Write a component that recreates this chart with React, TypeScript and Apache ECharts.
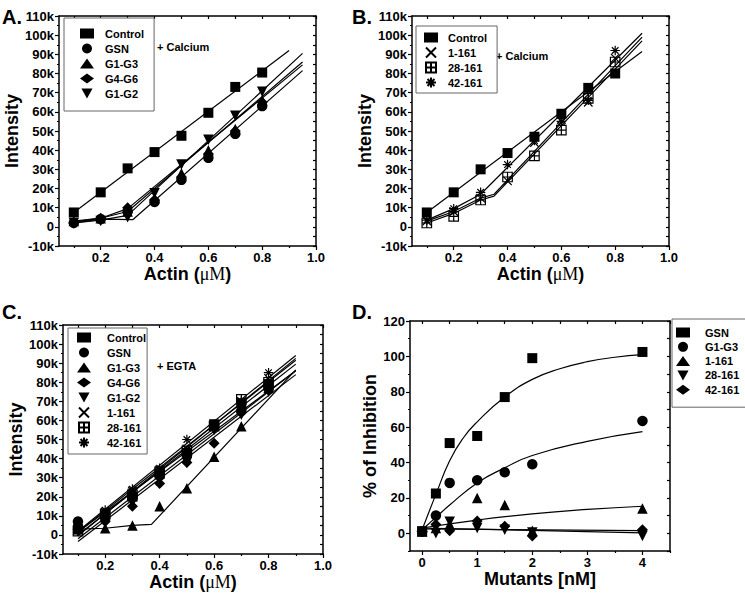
import React, { useEffect, useRef } from 'react';
import * as echarts from 'echarts';

const FONT = '"Liberation Sans", Arial, Helvetica, sans-serif';
const SERIF = '"Liberation Serif", "DejaVu Serif", serif';
const INK = '#000';

// ---------- tick values ----------
const actinMajor = [0.2, 0.4, 0.6, 0.8, 1.0];
const actinMinor = [0.1, 0.3, 0.5, 0.7, 0.9];
const intensityMajor = [-10000, 0, 10000, 20000, 30000, 40000, 50000, 60000, 70000, 80000, 90000, 100000, 110000];
const intensityMinor = [-5000, 5000, 15000, 25000, 35000, 45000, 55000, 65000, 75000, 85000, 95000, 105000];
const mutantsMajor = [0, 1, 2, 3, 4];
const mutantsMinor = [0.5, 1.5, 2.5, 3.5, 4.5];
const inhibMajor = [0, 20, 40, 60, 80, 100, 120];
const inhibMinor = [-10, 10, 30, 50, 70, 90, 110];

// ---------- panel A (+ Calcium) ----------
const actinX = [0.1, 0.2, 0.3, 0.4, 0.5, 0.6, 0.7, 0.8];
const aControl = [7500, 18000, 30500, 39000, 47500, 59500, 73000, 80500];
const aGSN = [2000, 4000, 8000, 13000, 24500, 36000, 48500, 63000];
const aG1G3 = [3000, 4500, 8000, 15000, 28000, 40000, 51000, 66000];
const aG4G6 = [2000, 4500, 10000, 14000, 26000, 38000, 50000, 65000];
const aG1G2 = [2000, 3000, 5000, 17500, 32500, 45500, 58000, 70500];
const aFitControl = [[0.1, 7500], [0.9, 92000]];
const aFitGSN = [[0.1, 2000], [0.2, 4000], [0.32, 3800], [0.95, 81500]];
const aFitG1G3 = [[0.1, 3000], [0.2, 4500], [0.3, 8000], [0.95, 86000]];
const aFitG4G6 = [[0.1, 2500], [0.2, 4500], [0.3, 9500], [0.95, 84500]];
const aFitG1G2 = [[0.1, 2000], [0.2, 3500], [0.3, 6000], [0.95, 90500]];

// ---------- panel B (+ Calcium) ----------
const bControl = [7500, 18000, 30000, 38500, 47000, 59000, 72500, 80000];
const b1_161 = [3000, 8000, 15000, 24000, 44000, 56000, 65000, 88000];
const b28_161 = [2000, 5500, 14000, 26000, 37000, 50500, 67000, 86000];
const b42_161 = [3500, 9500, 18000, 32500, 45000, 55000, 66000, 92000];
const bFitControl = [[0.1, 7500], [0.9, 91500]];
const bFit1_161 = [[0.1, 3000], [0.2, 8000], [0.3, 15000], [0.35, 17000], [0.9, 99000]];
const bFit28_161 = [[0.1, 2000], [0.2, 7000], [0.3, 14000], [0.35, 16000], [0.9, 97000]];
const bFit42_161 = [[0.1, 3500], [0.2, 9500], [0.3, 17000], [0.9, 101000]];

// ---------- panel C (+ EGTA) ----------
const cControl = [3000, 10000, 20000, 32000, 43000, 58000, 69000, 79000];
const cGSN = [7000, 11000, 21000, 31000, 42000, 57000, 65000, 77000];
const cG1G3 = [3000, 3500, 5000, 15000, 24500, 41000, 57000, 77000];
const cG4G6 = [3000, 7000, 15000, 27000, 38000, 48000, 64000, 76000];
const cG1G2 = [2000, 8000, 17000, 29000, 38000, 55000, 63000, 75000];
const c1_161 = [3000, 12000, 23000, 34000, 45000, 57000, 70000, 82000];
const c28_161 = [2000, 11000, 21000, 33000, 44000, 57000, 71000, 80000];
const c42_161 = [4000, 13000, 24000, 35000, 50000, 58000, 70000, 85000];
const cFitControl = [[0.1, 0], [0.9, 89500]];
const cFitGSN = [[0.1, 1500], [0.9, 86000]];
const cFitG1G3 = [[0.1, 3000], [0.2, 3500], [0.3, 5000], [0.37, 5500], [0.9, 86500]];
const cFitG4G6 = [[0.1, -3500], [0.9, 84000]];
const cFitG1G2 = [[0.1, -2000], [0.9, 86000]];
const cFit1_161 = [[0.1, 1500], [0.9, 91500]];
const cFit28_161 = [[0.1, -500], [0.9, 92500]];
const cFit42_161 = [[0.1, 2000], [0.9, 94000]];

// ---------- panel D ----------
const dX = [0, 0.25, 0.5, 1, 1.5, 2, 4];
const dGSN = [1, 22.5, 51, 55, 77, 99, 102.5];
const dG1G3 = [1, 10, 28.5, 30, 34.5, 39, 63.5];
const d1_161 = [1, 3, 5, 20, 16, 1.5, 14];
const d28_161 = [1, 0, 6.5, 3, 2, 0.5, -1.5];
const d42_161 = [1, 5, 1.5, 7, 4, -1.5, 2];
const dFitGSN = [[0, 2], [0.25, 22], [0.5, 41], [0.75, 54], [1, 63], [1.5, 77], [2, 87], [2.5, 93], [3, 97], [3.5, 99.5], [4, 101]];
const dFitG1G3 = [[0, 2], [0.25, 9], [0.5, 16], [1, 28.5], [1.5, 37], [2, 44], [3, 52], [4, 57.5]];
const dFit1_161 = [[0, 3], [1, 7.5], [2, 11], [3, 13.5], [4, 15.3]];
const dFit28_161 = [[0, 3], [4, 0.3]];
const dFit42_161 = [[0, 2.5], [4, 1.5]];

// ---------- symbols ----------
type Sym = { symbol: string; size: number; filled: boolean };
const SQ: Sym = { symbol: 'rect', size: 10, filled: true };
const CI: Sym = { symbol: 'circle', size: 10.5, filled: true };
const TR: Sym = { symbol: 'triangle', size: 10.5, filled: true };
const DI: Sym = { symbol: 'diamond', size: 11, filled: true };
const IT: Sym = { symbol: 'path://M0,0L10,0L5,9Z', size: 10.5, filled: true };
const XC: Sym = { symbol: 'path://M0,0L10,10M10,0L0,10', size: 8.5, filled: false };
const BP: Sym = { symbol: 'path://M0,0L10,0L10,10L0,10ZM5,0L5,10M0,5L10,5', size: 9.5, filled: false };
const ST: Sym = { symbol: 'path://M0.5,0.5L9.5,9.5M9.5,0.5L0.5,9.5M5,-1.5L5,11.5M-1.5,5L11.5,5', size: 9.5, filled: false };

const strip = (n: string) => n.split('#')[0];
const kFmt = (v: number) => (Math.abs(v) < 1e-9 ? '0' : `${Math.round(v / 1000)}k`);
const dec1 = (v: number) => v.toFixed(1);
const intFmt = (v: number) => String(Math.round(v));

type Spec = { min: number; max: number; major: number[]; minor: number[]; fmt: (v: number) => string };

const axisLine = { show: true, onZero: false, lineStyle: { color: INK, width: 1.5 } };
const tickLine = { color: INK, width: 1.2 };
const labelStyle = { fontFamily: FONT, fontWeight: 'bold', fontSize: 13, color: INK };
const nameStyle = {
  fontFamily: FONT,
  fontWeight: 'bold',
  fontSize: 18,
  color: INK,
  rich: { u: { fontFamily: SERIF, fontWeight: 'normal', fontSize: 18, color: INK } },
};

function makeAxes(g: number, xs: Spec, ys: Spec, xName: string, yName: string, xGap: number, yGap: number) {
  const xAxes = [
    {
      gridIndex: g, type: 'value', position: 'bottom', min: xs.min, max: xs.max,
      axisLine,
      axisTick: { show: true, inside: false, length: 4, customValues: xs.major, lineStyle: tickLine },
      axisLabel: { show: true, customValues: xs.major, formatter: xs.fmt, margin: 5, ...labelStyle },
      splitLine: { show: false },
      name: xName, nameLocation: 'middle', nameGap: xGap, nameTextStyle: nameStyle,
    },
    {
      gridIndex: g, type: 'value', position: 'bottom', min: xs.min, max: xs.max,
      axisLine: { show: false, onZero: false },
      axisTick: { show: true, inside: false, length: 2, customValues: xs.minor, lineStyle: tickLine },
      axisLabel: { show: false },
      splitLine: { show: false },
    },
    {
      gridIndex: g, type: 'value', position: 'top', min: xs.min, max: xs.max,
      axisLine,
      axisTick: { show: true, inside: true, length: 3, customValues: [...xs.major, ...xs.minor], lineStyle: tickLine },
      axisLabel: { show: false },
      splitLine: { show: false },
    },
  ];
  const yAxes = [
    {
      gridIndex: g, type: 'value', position: 'left', min: ys.min, max: ys.max,
      axisLine,
      axisTick: { show: true, inside: false, length: 4, customValues: ys.major, lineStyle: tickLine },
      axisLabel: { show: true, customValues: ys.major, formatter: ys.fmt, margin: 5, ...labelStyle },
      splitLine: { show: false },
      name: yName, nameLocation: 'middle', nameGap: yGap, nameTextStyle: nameStyle,
    },
    {
      gridIndex: g, type: 'value', position: 'left', min: ys.min, max: ys.max,
      axisLine: { show: false, onZero: false },
      axisTick: { show: true, inside: false, length: 2, customValues: ys.minor, lineStyle: tickLine },
      axisLabel: { show: false },
      splitLine: { show: false },
    },
    {
      gridIndex: g, type: 'value', position: 'right', min: ys.min, max: ys.max,
      axisLine,
      axisTick: { show: true, inside: true, length: 3, customValues: [...ys.major, ...ys.minor], lineStyle: tickLine },
      axisLabel: { show: false },
      splitLine: { show: false },
    },
  ];
  return { xAxes, yAxes };
}

function scatter(name: string, xs: number[], ys: number[], s: Sym, p: number) {
  return {
    type: 'scatter', name, xAxisIndex: p * 3, yAxisIndex: p * 3,
    data: xs.map((x, i) => [x, ys[i]]),
    symbol: s.symbol, symbolSize: s.size,
    itemStyle: s.filled
      ? { color: INK, borderWidth: 0, opacity: 1 }
      : { color: 'rgba(0,0,0,0)', borderColor: INK, borderWidth: 1.2, opacity: 1 },
    z: 3, silent: true,
  };
}

function fit(pts: number[][], p: number, smooth = false) {
  return {
    type: 'line', xAxisIndex: p * 3, yAxisIndex: p * 3, data: pts,
    showSymbol: false, symbol: 'none', smooth,
    lineStyle: { color: INK, width: 1.2 }, z: 2, silent: true,
  };
}

function legend(left: number, top: number, names: string[], gap: number, padding: number[], textPad: number) {
  return {
    left, top, orient: 'vertical', data: names, formatter: strip, selectedMode: false,
    itemWidth: 14, itemHeight: 10, itemGap: gap, padding,
    borderColor: '#666', borderWidth: 1, backgroundColor: '#fff',
    itemStyle: { opacity: 1 },
    textStyle: { fontFamily: FONT, fontWeight: 'bold', fontSize: 11, color: INK, lineHeight: 13, padding: [0, 0, 0, textPad] },
  };
}

export default function App() {
  const ref = useRef<HTMLDivElement>(null);
  useEffect(() => {
    if (!ref.current) return;
    const chart = echarts.init(ref.current, undefined, { renderer: 'svg' });
    const actin = (min: number): Spec => ({ min, max: 1.0, major: actinMajor, minor: actinMinor, fmt: dec1 });
    const inten: Spec = { min: -10000, max: 110000, major: intensityMajor, minor: intensityMinor, fmt: kFmt };
    const actinName = 'Actin ({u|\u03bcM})';
    const A = makeAxes(0, actin(0.045), inten, actinName, 'Intensity', 19, 37);
    const B = makeAxes(1, actin(0.045), inten, actinName, 'Intensity', 19, 38);
    const C = makeAxes(2, actin(0.045), inten, actinName, 'Intensity', 13, 37);
    const D = makeAxes(
      3,
      { min: -0.22, max: 4.5, major: mutantsMajor, minor: mutantsMinor, fmt: intFmt },
      { min: -10, max: 120, major: inhibMajor, minor: inhibMinor, fmt: intFmt },
      'Mutants [nM]', '% of Inhibition', 18, 22,
    );

    const option = {
      animation: false,
      backgroundColor: '#fff',
      grid: [
        { left: 59, top: 16, width: 257, height: 230, outerBoundsMode: 'none' },
        { left: 412, top: 16, width: 257, height: 230, outerBoundsMode: 'none' },
        { left: 63, top: 325, width: 260, height: 229, outerBoundsMode: 'none' },
        { left: 410, top: 321, width: 260, height: 230, outerBoundsMode: 'none' },
      ],
      xAxis: [...A.xAxes, ...B.xAxes, ...C.xAxes, ...D.xAxes],
      yAxis: [...A.yAxes, ...B.yAxes, ...C.yAxes, ...D.yAxes],
      legend: [
        legend(64, 18, ['Control#A', 'GSN#A', 'G1-G3#A', 'G4-G6#A', 'G1-G2#A'], 2, [9, 10, 11, 16], 6),
        legend(416, 26, ['Control#B', '1-161#B', '28-161#B', '42-161#B'], 2, [5, 10, 4, 8], 5),
        legend(68, 328, ['Control#C', 'GSN#C', 'G1-G3#C', 'G4-G6#C', 'G1-G2#C', '1-161#C', '28-161#C', '42-161#C'], 2, [3, 1, 5, 9], 11),
        legend(672, 319, ['GSN#D', 'G1-G3#D', '1-161#D', '28-161#D', '42-161#D'], 1.3, [7, 10, 11, 4], 10),
      ],
      graphic: [
        { type: 'text', left: 2, top: 7, style: { text: 'A.', font: `bold 20px ${FONT}`, fill: INK } },
        { type: 'text', left: 352, top: 7, style: { text: 'B.', font: `bold 20px ${FONT}`, fill: INK } },
        { type: 'text', left: 2, top: 302, style: { text: 'C.', font: `bold 20px ${FONT}`, fill: INK } },
        { type: 'text', left: 352, top: 302, style: { text: 'D.', font: `bold 20px ${FONT}`, fill: INK } },
        { type: 'text', left: 157, top: 41, style: { text: '+ Calcium', font: `bold 11px ${FONT}`, fill: INK } },
        { type: 'text', left: 496, top: 50, style: { text: '+ Calcium', font: `bold 11px ${FONT}`, fill: INK } },
        { type: 'text', left: 157, top: 360, style: { text: '+ EGTA', font: `bold 11px ${FONT}`, fill: INK } },
      ],
      series: [
        // A
        fit(aFitControl, 0), fit(aFitGSN, 0), fit(aFitG1G3, 0), fit(aFitG4G6, 0), fit(aFitG1G2, 0),
        scatter('Control#A', actinX, aControl, SQ, 0),
        scatter('GSN#A', actinX, aGSN, CI, 0),
        scatter('G1-G3#A', actinX, aG1G3, TR, 0),
        scatter('G4-G6#A', actinX, aG4G6, DI, 0),
        scatter('G1-G2#A', actinX, aG1G2, IT, 0),
        // B
        fit(bFitControl, 1), fit(bFit1_161, 1), fit(bFit28_161, 1), fit(bFit42_161, 1),
        scatter('Control#B', actinX, bControl, SQ, 1),
        scatter('1-161#B', actinX, b1_161, XC, 1),
        scatter('28-161#B', actinX, b28_161, BP, 1),
        scatter('42-161#B', actinX, b42_161, ST, 1),
        // C
        fit(cFitControl, 2), fit(cFitGSN, 2), fit(cFitG1G3, 2), fit(cFitG4G6, 2),
        fit(cFitG1G2, 2), fit(cFit1_161, 2), fit(cFit28_161, 2), fit(cFit42_161, 2),
        scatter('Control#C', actinX, cControl, SQ, 2),
        scatter('GSN#C', actinX, cGSN, CI, 2),
        scatter('G1-G3#C', actinX, cG1G3, TR, 2),
        scatter('G4-G6#C', actinX, cG4G6, DI, 2),
        scatter('G1-G2#C', actinX, cG1G2, IT, 2),
        scatter('1-161#C', actinX, c1_161, XC, 2),
        scatter('28-161#C', actinX, c28_161, BP, 2),
        scatter('42-161#C', actinX, c42_161, ST, 2),
        // D
        fit(dFitGSN, 3, true), fit(dFitG1G3, 3, true), fit(dFit1_161, 3, true),
        fit(dFit28_161, 3), fit(dFit42_161, 3),
        scatter('GSN#D', dX, dGSN, SQ, 3),
        scatter('G1-G3#D', dX, dG1G3, CI, 3),
        scatter('1-161#D', dX, d1_161, TR, 3),
        scatter('28-161#D', dX, d28_161, IT, 3),
        scatter('42-161#D', dX, d42_161, DI, 3),
      ],
    };
    chart.setOption(option as any);
    return () => chart.dispose();
  }, []);
  return (
    <div
      ref={ref}
      style={{ position: 'fixed', left: 0, top: 0, width: 745, height: 595, background: '#fff' }}
    />
  );
}
